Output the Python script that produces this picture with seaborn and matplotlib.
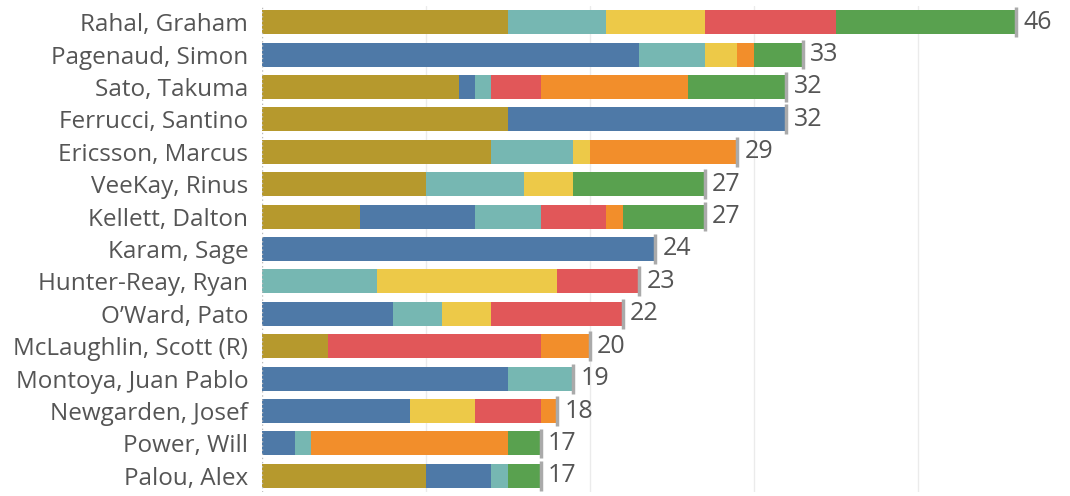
import numpy as np
import pandas as pd
import matplotlib
matplotlib.use("Agg")
import matplotlib.pyplot as plt
import seaborn as sns

# 드라이버 목록 (위에서 아래 순서)
drivers = ["Rahal, Graham", "Pagenaud, Simon", "Sato, Takuma", "Ferrucci, Santino",
           "Ericsson, Marcus", "VeeKay, Rinus", "Kellett, Dalton", "Karam, Sage",
           "Hunter-Reay, Ryan", "O\u2019Ward, Pato", "McLaughlin, Scott (R)",
           "Montoya, Juan Pablo", "Newgarden, Josef", "Power, Will", "Palou, Alex"]

# 구간별 값
seg_a = [15, 0, 12, 15, 14, 10, 6, 0, 0, 0, 4, 0, 0, 0, 10]    # gold
seg_b = [0, 23, 1, 17, 0, 0, 7, 24, 0, 8, 0, 15, 9, 2, 4]      # blue
seg_c = [6, 4, 1, 0, 5, 6, 4, 0, 7, 3, 0, 4, 0, 1, 1]          # teal
seg_d = [6, 2, 0, 0, 1, 3, 0, 0, 11, 3, 0, 0, 4, 0, 0]         # yellow
seg_e = [8, 0, 3, 0, 0, 0, 4, 0, 5, 8, 13, 0, 4, 0, 0]         # red
seg_f = [0, 1, 9, 0, 9, 0, 1, 0, 0, 0, 3, 0, 1, 12, 0]         # orange
seg_g = [11, 3, 6, 0, 0, 8, 5, 0, 0, 0, 0, 0, 0, 2, 2]         # green

segments = [seg_a, seg_b, seg_c, seg_d, seg_e, seg_f, seg_g]
colors = ["#B6992D", "#4E79A7", "#76B7B2", "#EDC948", "#E15759", "#F28E2B", "#59A14F"]

df = pd.DataFrame({"driver": drivers})
cum = np.cumsum(np.array(segments), axis=0)
for i in range(len(segments)):
    df[f"cum{i}"] = cum[i]
df["total"] = cum[-1]

sns.set_style("white")
plt.rcParams["font.family"] = ["Open Sans", "DejaVu Sans"]

fig = plt.figure(figsize=(10.7, 4.96), dpi=100)
ax = fig.add_axes([0.2449, 0.008, 0.7551, 0.980])

# 누적 막대 (뒤에서부터 그리기)
for i in range(len(segments) - 1, -1, -1):
    sns.barplot(data=df, x=f"cum{i}", y="driver", order=drivers, orient="h",
                color=colors[i], saturation=1, width=0.74, linewidth=0, ax=ax, zorder=2)

ax.set_xlim(0, 49.3)
ax.set_ylim(len(drivers) - 0.5, -0.5)
ax.set_xticks([10, 20, 30, 40])
ax.xaxis.grid(True, color="#EBEBEB", linewidth=1, zorder=0)
ax.set_axisbelow(True)
ax.axvline(0, color="#BBBBBB", linestyle=(0, (1, 2)), linewidth=1, zorder=3)
for s in ax.spines.values():
    s.set_visible(False)
ax.set_xlabel("")
ax.set_ylabel("")
ax.tick_params(axis="x", labelbottom=False, length=0)
ax.tick_params(axis="y", length=0, pad=10, labelsize=17.5, labelcolor="#555555")

# 합계 표시
for i, (d, t) in enumerate(zip(drivers, df["total"])):
    ax.plot([t, t], [i - 0.46, i + 0.46], color="#AAAAAA", linewidth=2.5, zorder=4,
            solid_capstyle="butt")
    ax.text(t + 0.45, i, f"{t}", va="center", ha="left", fontsize=18, color="#555555")

fig.savefig("out.png", dpi=100)
